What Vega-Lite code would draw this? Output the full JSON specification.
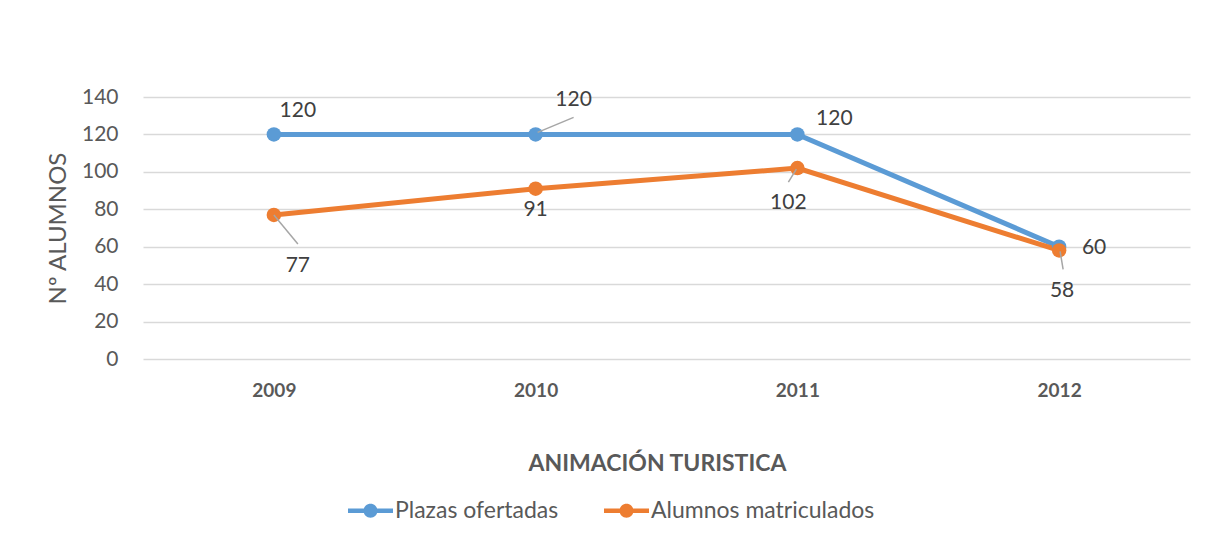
{
  "$schema": "https://vega.github.io/schema/vega-lite/v6.json",
  "autosize": {"type": "none"},
  "width": 1047,
  "height": 262,
  "padding": {"left": 143, "top": 97, "right": 33, "bottom": 186},
  "background": "white",
  "config": {
    "font": "Lato",
    "view": {"stroke": null},
    "axis": {"labelColor": "#595959", "titleColor": "#595959", "labelFont": "Lato", "titleFont": "Lato"},
    "legend": {"labelFont": "Lato"}
  },
  "data": {
    "values": [
      {"year": "2009", "series": "Plazas ofertadas", "value": 120},
      {"year": "2010", "series": "Plazas ofertadas", "value": 120},
      {"year": "2011", "series": "Plazas ofertadas", "value": 120},
      {"year": "2012", "series": "Plazas ofertadas", "value": 60},
      {"year": "2009", "series": "Alumnos matriculados", "value": 77},
      {"year": "2010", "series": "Alumnos matriculados", "value": 91},
      {"year": "2011", "series": "Alumnos matriculados", "value": 102},
      {"year": "2012", "series": "Alumnos matriculados", "value": 58}
    ]
  },
  "encoding": {
    "x": {
      "field": "year", "type": "nominal",
      "scale": {"type": "point", "padding": 0.5},
      "axis": {
        "labelAngle": 0, "domain": false, "ticks": false, "grid": false,
        "labelFontSize": 19, "labelFontWeight": "bold", "labelPadding": 22,
        "title": "ANIMACIÓN TURISTICA", "titleFontSize": 23, "titleFontWeight": "bold", "titlePadding": 52, "titleX": 514
      }
    },
    "y": {
      "field": "value", "type": "quantitative",
      "scale": {"domain": [0, 140]},
      "axis": {
        "values": [0, 20, 40, 60, 80, 100, 120, 140],
        "domain": false, "ticks": false, "grid": true, "gridColor": "#d9d9d9", "gridWidth": 1.5,
        "labelFontSize": 21, "labelPadding": 25,
        "title": "Nº ALUMNOS", "titleFontSize": 24, "titleFontWeight": "normal", "titlePadding": 11
      }
    }
  },
  "layer": [
    {
      "mark": {"type": "line", "strokeWidth": 5, "point": {"filled": true, "size": 210, "opacity": 1}},
      "encoding": {
        "color": {
          "field": "series", "type": "nominal",
          "scale": {"domain": ["Plazas ofertadas", "Alumnos matriculados"], "range": ["#5b9bd5", "#ed7d31"]},
          "legend": {
            "orient": "none", "direction": "horizontal", "legendX": 205, "legendY": 391,
            "title": null,
            "symbolType": "M -1 -0.1 L 1 -0.1 L 1 0.1 L -1 0.1 Z M 0.31 0 A 0.31 0.31 0 1 1 -0.31 0 A 0.31 0.31 0 1 1 0.31 0 Z",
            "symbolSize": 2025, "symbolStrokeWidth": 0,
            "labelFontSize": 23, "labelColor": "#595959", "labelOffset": 2, "columnPadding": 45, "labelLimit": 400,
            "encode": {"symbols": {"update": {"fill": {"scale": "color", "field": "value"}, "stroke": {"value": "transparent"}, "strokeWidth": {"value": 0}, "opacity": {"value": 1}}}}
          }
        }
      }
    },
    {"transform": [{"filter": "datum.series == 'Plazas ofertadas' && datum.year == '2010'"}],
     "mark": {"type": "rule", "color": "#a6a6a6", "strokeWidth": 1.5, "xOffset": 2, "yOffset": -2, "x2Offset": 38, "y2Offset": -17},
     "encoding": {"x2": {"field": "year"}, "y2": {"field": "value"}}},
    {"transform": [{"filter": "datum.series == 'Alumnos matriculados' && datum.year == '2009'"}],
     "mark": {"type": "rule", "color": "#a6a6a6", "strokeWidth": 1.5, "xOffset": 0, "yOffset": 0, "x2Offset": 24, "y2Offset": 29},
     "encoding": {"x2": {"field": "year"}, "y2": {"field": "value"}}},
    {"transform": [{"filter": "datum.series == 'Alumnos matriculados' && datum.year == '2011'"}],
     "mark": {"type": "rule", "color": "#a6a6a6", "strokeWidth": 1.5, "xOffset": -1, "yOffset": 1, "x2Offset": -9, "y2Offset": 14},
     "encoding": {"x2": {"field": "year"}, "y2": {"field": "value"}}},
    {"transform": [{"filter": "datum.series == 'Alumnos matriculados' && datum.year == '2012'"}],
     "mark": {"type": "rule", "color": "#a6a6a6", "strokeWidth": 1.5, "xOffset": 1, "yOffset": 1, "x2Offset": 4, "y2Offset": 19},
     "encoding": {"x2": {"field": "year"}, "y2": {"field": "value"}}},
    {"transform": [{"filter": "datum.series == 'Plazas ofertadas' && datum.year == '2009'"}],
     "mark": {"type": "text", "fontSize": 21, "color": "#404040", "baseline": "middle", "dx": 24, "dy": -23},
     "encoding": {"text": {"field": "value"}}},
    {"transform": [{"filter": "datum.series == 'Plazas ofertadas' && datum.year == '2010'"}],
     "mark": {"type": "text", "fontSize": 21, "color": "#404040", "baseline": "middle", "dx": 38, "dy": -34},
     "encoding": {"text": {"field": "value"}}},
    {"transform": [{"filter": "datum.series == 'Plazas ofertadas' && datum.year == '2011'"}],
     "mark": {"type": "text", "fontSize": 21, "color": "#404040", "baseline": "middle", "dx": 37, "dy": -15},
     "encoding": {"text": {"field": "value"}}},
    {"transform": [{"filter": "datum.series == 'Plazas ofertadas' && datum.year == '2012'"}],
     "mark": {"type": "text", "fontSize": 21, "color": "#404040", "baseline": "middle", "dx": 35, "dy": 1},
     "encoding": {"text": {"field": "value"}}},
    {"transform": [{"filter": "datum.series == 'Alumnos matriculados' && datum.year == '2009'"}],
     "mark": {"type": "text", "fontSize": 21, "color": "#404040", "baseline": "middle", "dx": 24, "dy": 51},
     "encoding": {"text": {"field": "value"}}},
    {"transform": [{"filter": "datum.series == 'Alumnos matriculados' && datum.year == '2010'"}],
     "mark": {"type": "text", "fontSize": 21, "color": "#404040", "baseline": "middle", "dx": 0, "dy": 21},
     "encoding": {"text": {"field": "value"}}},
    {"transform": [{"filter": "datum.series == 'Alumnos matriculados' && datum.year == '2011'"}],
     "mark": {"type": "text", "fontSize": 21, "color": "#404040", "baseline": "middle", "dx": -9, "dy": 35},
     "encoding": {"text": {"field": "value"}}},
    {"transform": [{"filter": "datum.series == 'Alumnos matriculados' && datum.year == '2012'"}],
     "mark": {"type": "text", "fontSize": 21, "color": "#404040", "baseline": "middle", "dx": 3, "dy": 41},
     "encoding": {"text": {"field": "value"}}}
  ]
}
